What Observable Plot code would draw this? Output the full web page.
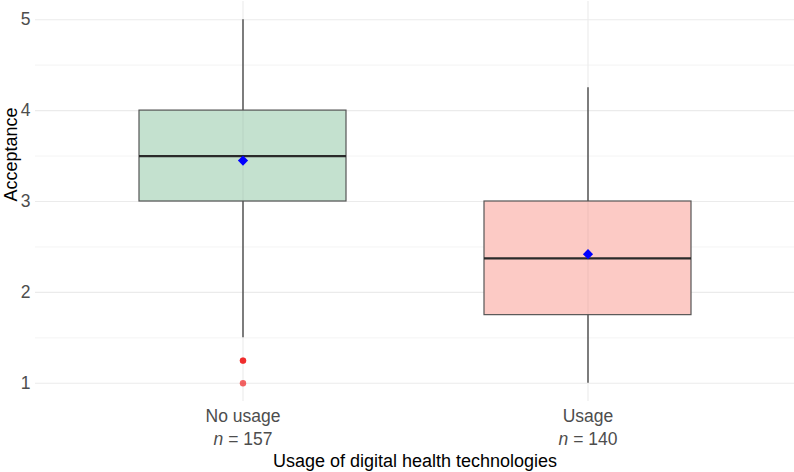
<!DOCTYPE html>
<html>
<head>
<meta charset="utf-8">
<script src="https://cdn.jsdelivr.net/npm/d3@7"></script>
<script src="https://cdn.jsdelivr.net/npm/@observablehq/plot@0.6"></script>
<style>
  html, body { margin: 0; padding: 0; background: #fff; }
</style>
</head>
<body>
<div id="chart"></div>
<script>
// Acceptance by usage of digital health technologies (box plot summary)
const groups   = ["No usage", "Usage"];
const counts   = [157, 140];
const lowWhisk = [1.5, 1.0];
const q1       = [3.0, 1.75];
const medians  = [3.5, 2.375];
const q3       = [4.0, 3.0];
const highWhisk= [5.0, 4.25];
const means    = [3.45, 2.42];
const fills    = ["#c4e1cf", "#fccac5"];

const outlierGroup  = ["No usage", "No usage", "No usage"];
const outlierValues = [1.25, 1.25, 1.0];

const yTicks      = [1, 2, 3, 4, 5];
const yMinorTicks = [1.5, 2.5, 3.5, 4.5];

const stats = groups.map((g, i) => ({
  group: g, n: counts[i], lo: lowWhisk[i], q1: q1[i], median: medians[i],
  q3: q3[i], hi: highWhisk[i], mean: means[i], fill: fills[i]
}));
const outliers = outlierValues.map((v, i) => ({group: outlierGroup[i], value: v}));
const nByGroup = new Map(stats.map(d => [d.group, d.n]));

const font = "'Liberation Sans', Arial, sans-serif";
const tickSize = 17.5;
const titleSize = 18;

const chart = Plot.plot({
  width: 794,
  height: 472,
  marginTop: 1,
  marginLeft: 35,
  marginRight: 0,
  marginBottom: 71,
  style: {fontFamily: font, fontSize: `${tickSize}px`, color: "#4d4d4d", background: "#fff", overflow: "visible"},
  x: {type: "band", domain: groups, paddingInner: 0.4, paddingOuter: 0.3, align: 0.5, label: null},
  y: {domain: [0.8, 5.2], label: null},
  marks: [
    // panel grid
    Plot.ruleY(yMinorTicks, {stroke: "#ededed", strokeWidth: 0.6}),
    Plot.ruleY(yTicks, {stroke: "#ebebeb", strokeWidth: 1.1}),
    Plot.ruleX(groups, {x: d => d, stroke: "#ebebeb", strokeWidth: 1.1}),
    // whiskers
    Plot.ruleX(stats, {x: "group", y1: "lo", y2: "q1", stroke: "#1a1a1a", strokeWidth: 1.1}),
    Plot.ruleX(stats, {x: "group", y1: "q3", y2: "hi", stroke: "#1a1a1a", strokeWidth: 1.1}),
    // boxes
    Plot.barY(stats, {x: "group", y1: "q1", y2: "q3", fill: "fill", stroke: "#555", strokeWidth: 1.2}),
    Plot.ruleX(stats, {x: "group", y1: "q1", y2: "q3", stroke: "#000", strokeOpacity: 0.06, strokeWidth: 1}),
    Plot.tickY(stats, {x: "group", y: "median", stroke: "#2a2a2a", strokeWidth: 2.3}),
    // outliers
    Plot.dot(outliers, {x: "group", y: "value", r: 3.2, fill: "#ee1111", fillOpacity: 0.65, stroke: null}),
    // means
    Plot.dot(stats, {x: "group", y: "mean", symbol: "diamond2", r: 4.6, fill: "#0000ff", stroke: null}),
    // axes
    Plot.axisY(yTicks, {tickSize: 0, tickPadding: 5, fill: "#4d4d4d", fontSize: tickSize,
      tickFormat: d => String(d), label: null}),
    Plot.axisX({tickSize: 0, tickPadding: 3, fill: "#4d4d4d", fontSize: tickSize, lineHeight: 1.37,
      tickFormat: g => `${g}\nn = ${nByGroup.get(g)}`, label: null}),
    // axis titles
    Plot.text(["Usage of digital health technologies"], {frameAnchor: "bottom", dy: 65, fill: "#000", fontSize: titleSize}),
    Plot.text(["Acceptance"], {frameAnchor: "left", dx: -24, rotate: -90, fill: "#000", fontSize: titleSize})
  ]
});

// italicise the sample-size symbol in the category labels
chart.querySelectorAll("tspan, text").forEach(el => {
  if (el.childNodes.length === 1 && el.firstChild.nodeType === 3 && /^n = \d+$/.test(el.textContent)) {
    const rest = el.textContent.slice(1);
    el.textContent = "";
    const it = document.createElementNS("http://www.w3.org/2000/svg", "tspan");
    it.setAttribute("font-style", "italic");
    it.textContent = "n";
    el.appendChild(it);
    el.appendChild(document.createTextNode(rest));
  }
});

document.getElementById("chart").appendChild(chart);
</script>
</body>
</html>
